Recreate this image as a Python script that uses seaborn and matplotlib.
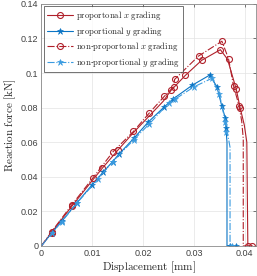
import matplotlib
matplotlib.use("Agg")
import matplotlib.pyplot as plt
import numpy as np
import pandas as pd
import seaborn as sns

# proportonal x grading (red, solid)
rs_x = [0, 0.002, 0.006, 0.010, 0.012, 0.0151, 0.018, 0.021, 0.024, 0.0255, 0.0283, 0.0315,
        0.0352, 0.0366, 0.0383, 0.0391, 0.0399, 0.0404, 0.0405, 0.0406, 0.0415]
rs_y = [0, 0.0077, 0.0230, 0.0378, 0.0450, 0.0556, 0.0652, 0.0745, 0.0838, 0.0900, 0.0986, 0.1073,
        0.1135, 0.1080, 0.0909, 0.0797, 0.0700, 0.0600, 0.0300, 0.0, 0.0]
rs_mark = [1, 2, 4, 5, 9, 10, 11, 12, 14, 15, 20]

# non-proportonal x grading (red, dash-dot)
rd_x = [0, 0.002, 0.006, 0.0101, 0.0141, 0.0181, 0.0212, 0.0242, 0.0260, 0.0262, 0.0309,
        0.0355, 0.0368, 0.0378, 0.0389, 0.0394, 0.0397, 0.0397, 0.0407]
rd_y = [0, 0.0082, 0.0238, 0.0392, 0.0545, 0.0662, 0.0768, 0.0866, 0.0920, 0.0963, 0.1098,
        0.1184, 0.1083, 0.0924, 0.0808, 0.0720, 0.0620, 0.0, 0.0]
rd_mark = [1, 2, 3, 4, 5, 6, 7, 8, 9, 10, 11, 12, 13, 14, 18]

# proportional y grading (blue, solid)
bs_x = [0, 0.002, 0.004, 0.007, 0.010, 0.0122, 0.014, 0.0152, 0.0182, 0.021, 0.0242, 0.0259,
        0.0297, 0.0331, 0.0345, 0.0355, 0.0362, 0.0363, 0.0365, 0.0365, 0.0370, 0.0383]
bs_y = [0, 0.0074, 0.0142, 0.0250, 0.0354, 0.0429, 0.0487, 0.0529, 0.0623, 0.0716, 0.0805, 0.0850,
        0.0930, 0.0988, 0.0922, 0.0807, 0.0737, 0.0680, 0.0600, 0.0, 0.0, 0.0]
bs_mark = [1, 2, 3, 4, 5, 6, 7, 8, 9, 10, 11, 12, 13, 14, 15, 16, 17, 20, 21]

# non-proportional y grading (blue, dash-dot)
bd_x = [0, 0.002, 0.004, 0.007, 0.0111, 0.0140, 0.0182, 0.0212, 0.0250, 0.0262, 0.0300, 0.0335,
        0.0350, 0.0362, 0.0364, 0.0368, 0.0371, 0.0371, 0.0374]
bd_y = [0, 0.0072, 0.0140, 0.0248, 0.0385, 0.0487, 0.0615, 0.0705, 0.0825, 0.0847, 0.0920, 0.0969,
        0.0880, 0.0714, 0.0660, 0.0620, 0.0570, 0.0, 0.0]
bd_mark = [1, 2, 3, 4, 5, 6, 7, 8, 9, 10, 11, 12, 13, 14, 18]

labels = [r"$\mathrm{proportonal}\ x\ \mathrm{grading}$",
          r"$\mathrm{proportional}\ y\ \mathrm{grading}$",
          r"$\mathrm{non}$-$\mathrm{proportonal}\ x\ \mathrm{grading}$",
          r"$\mathrm{non}$-$\mathrm{proportional}\ y\ \mathrm{grading}$"]

sns.set_style("whitegrid")
plt.rcParams["font.family"] = ["Liberation Sans", "DejaVu Sans"]
plt.rcParams["mathtext.fontset"] = "cm"

red = "#B0202A"
blue = "#0A74C4"
blue2 = "#3A9BE0"

fig = plt.figure(figsize=(2.57, 2.76), dpi=100)
ax = fig.add_axes([0.161, 0.109, 0.835, 0.877])

series = [
    (rs_x, rs_y, rs_mark, "-", "o", red, labels[0]),
    (bs_x, bs_y, bs_mark, "-", "*", blue, labels[1]),
    (rd_x, rd_y, rd_mark, "-.", "o", red, labels[2]),
    (bd_x, bd_y, bd_mark, "-.", "*", blue2, labels[3]),
]
for x, y, mk, ls, m, c, lab in series:
    df = pd.DataFrame({"x": x, "y": y})
    if m == "o":
        sns.lineplot(data=df, x="x", y="y", ax=ax, estimator=None, sort=False,
                     color=c, linestyle=ls, linewidth=0.8, marker="o", markersize=4.3,
                     markerfacecolor="none", markeredgecolor=c, markeredgewidth=0.8,
                     markevery=mk, label=lab)
    else:
        sns.lineplot(data=df, x="x", y="y", ax=ax, estimator=None, sort=False,
                     color=c, linestyle=ls, linewidth=0.8, marker="*", markersize=5,
                     markerfacecolor=c, markeredgecolor=c, markeredgewidth=0.4,
                     markevery=mk, label=lab)

ax.set_xlim(0, 0.0422)
ax.set_ylim(0, 0.14)
ax.set_xticks([0, 0.01, 0.02, 0.03, 0.04])
ax.set_xticklabels(["0", "0.01", "0.02", "0.03", "0.04"])
ax.set_yticks(np.arange(0, 0.141, 0.02))
ax.set_yticklabels(["0", "0.02", "0.04", "0.06", "0.08", "0.1", "0.12", "0.14"])
ax.tick_params(labelsize=6.5, direction="in", length=2.5, width=0.5, colors="#404040",
               pad=2, top=True, right=True)
ax.grid(True, color="#e3e3e3", linewidth=0.5)
for s in ax.spines.values():
    s.set_color("#8a8a8a")
    s.set_linewidth(0.6)
    s.set_visible(True)

ax.set_xlabel(r"$\mathrm{Displacement\ [mm]}$", fontsize=8, labelpad=1)
ax.set_ylabel(r"$\mathrm{Reaction\ force\ [kN]}$", fontsize=8, labelpad=2)

leg = ax.legend(loc="upper left", fontsize=6.3, frameon=True, fancybox=False,
                borderaxespad=0.3, handlelength=3.0, handletextpad=0.4,
                labelspacing=0.3, borderpad=0.3)
leg.get_frame().set_edgecolor("#333333")
leg.get_frame().set_linewidth(0.6)

fig.savefig("out.png", dpi=100)
